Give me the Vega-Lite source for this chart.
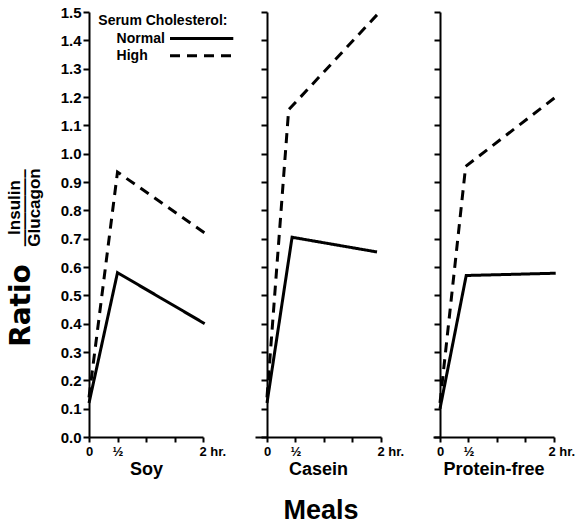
{
  "$schema": "https://vega.github.io/schema/vega-lite/v6.json",
  "background": "white",
  "padding": {"left": 5, "top": 5, "right": 2, "bottom": 2},
  "config": {
    "font": "Liberation Sans",
    "view": {"stroke": null},
    "axis": {"grid": false, "domainColor": "black", "domainWidth": 2, "tickColor": "black", "tickWidth": 2, "labelColor": "black", "titleColor": "black", "labelFontWeight": "bold", "titleFontWeight": "bold", "labelFlush": false, "labelOverlap": false},
    "legend": {"labelColor": "black", "titleColor": "black"},
    "title": {"color": "black"}
  },
  "title": {"text": "Meals", "orient": "bottom", "anchor": "middle", "frame": "group", "dx": 232, "fontSize": 27, "fontWeight": "bold", "offset": 20},
  "bounds": "flush",
  "spacing": 52,
  "datasets": {
    "d": [
      {"meal": "Soy", "chol": "Normal", "hr": 0, "ratio": 0.12},
      {"meal": "Soy", "chol": "Normal", "hr": 0.5, "ratio": 0.58},
      {"meal": "Soy", "chol": "Normal", "hr": 2.03, "ratio": 0.40},
      {"meal": "Soy", "chol": "High", "hr": 0, "ratio": 0.14},
      {"meal": "Soy", "chol": "High", "hr": 0.5, "ratio": 0.935},
      {"meal": "Soy", "chol": "High", "hr": 2.03, "ratio": 0.72},
      {"meal": "Casein", "chol": "Normal", "hr": 0, "ratio": 0.12},
      {"meal": "Casein", "chol": "Normal", "hr": 0.44, "ratio": 0.705},
      {"meal": "Casein", "chol": "Normal", "hr": 1.93, "ratio": 0.653},
      {"meal": "Casein", "chol": "High", "hr": 0, "ratio": 0.14},
      {"meal": "Casein", "chol": "High", "hr": 0.38, "ratio": 1.155},
      {"meal": "Casein", "chol": "High", "hr": 1.93, "ratio": 1.49},
      {"meal": "Protein-free", "chol": "Normal", "hr": 0, "ratio": 0.10},
      {"meal": "Protein-free", "chol": "Normal", "hr": 0.46, "ratio": 0.57},
      {"meal": "Protein-free", "chol": "Normal", "hr": 2.03, "ratio": 0.578},
      {"meal": "Protein-free", "chol": "High", "hr": 0, "ratio": 0.12},
      {"meal": "Protein-free", "chol": "High", "hr": 0.45, "ratio": 0.955},
      {"meal": "Protein-free", "chol": "High", "hr": 2.03, "ratio": 1.20}
    ]
  },
  "resolve": {"scale": {"x": "independent", "strokeDash": "independent"}, "legend": {"strokeDash": "independent"}},
  "hconcat": [
    {
      "width": 114, "height": 425,
      "title": {"text": "Ratio", "orient": "left", "anchor": "middle", "frame": "group", "font": "DejaVu Sans", "fontSize": 28, "fontWeight": "bold", "baseline": "alphabetic", "dx": -81, "offset": -52},
      "data": {"name": "d"},
      "transform": [{"filter": "datum.meal === 'Soy'"}],
      "mark": {"type": "line", "strokeWidth": 3, "color": "black"},
      "encoding": {
        "x": {"field": "hr", "type": "quantitative", "scale": {"domain": [0, 2], "nice": false, "zero": false},
          "axis": {"values": [0, 0.5, 1, 1.5, 2], "labelExpr": "datum.value == 0 ? '0' : datum.value == 0.5 ? '½' : datum.value == 2 ? '2 hr.' : ''",
            "labelAlign": {"condition": {"test": "datum.value == 2", "value": "left"}, "value": "center"},
            "labelOffset": {"condition": {"test": "datum.value == 2", "value": -4}, "value": 0},
            "tickSize": 5, "labelPadding": 3, "labelFontSize": 13, "titleFontSize": 18, "titlePadding": 2, "title": "Soy"}},
        "y": {"field": "ratio", "type": "quantitative", "scale": {"domain": [0, 1.5], "nice": false},
          "axis": {"values": [0, 0.1, 0.2, 0.3, 0.4, 0.5, 0.6, 0.7, 0.8, 0.9, 1.0, 1.1, 1.2, 1.3, 1.4, 1.5], "format": ".1f", "tickSize": 6, "labelPadding": 2, "labelFontSize": 15,
            "title": ["Insulin", "————–", "Glucagon"], "titleFontSize": 17, "titleLineHeight": 10, "titleX": -69.3, "titleY": 195, "titleBaseline": "alphabetic", "titleAlign": "center"}},
        "strokeDash": {"field": "chol", "type": "nominal", "scale": {"domain": ["Normal", "High"], "range": [[1, 0], [10, 7]]},
          "legend": {"orient": "none", "legendX": 9.3, "legendY": 1.5, "padding": 0, "title": "Serum Cholesterol:", "titleFontSize": 14, "titleFontWeight": "bold", "titlePadding": 4, "titleAnchor": "start",
            "labelFontSize": 14, "labelFontWeight": "bold", "labelOffset": 4.3, "symbolType": "M12.94,0H25.6", "symbolSize": 100, "symbolStrokeWidth": 3, "symbolStrokeColor": "black", "rowPadding": 3.3}}
      }
    },
    {
      "width": 126, "height": 425,
      "data": {"name": "d"},
      "transform": [{"filter": "datum.meal === 'Casein'"}],
      "mark": {"type": "line", "strokeWidth": 3, "color": "black"},
      "encoding": {
        "x": {"field": "hr", "type": "quantitative", "scale": {"domain": [-0.2105, 2], "nice": false, "zero": false},
          "axis": {"values": [0, 0.5, 1, 1.5, 2], "labelExpr": "datum.value == 0 ? '0' : datum.value == 0.5 ? '½' : datum.value == 2 ? '2 hr.' : ''",
            "labelAlign": {"condition": {"test": "datum.value == 2", "value": "left"}, "value": "center"},
            "labelOffset": {"condition": {"test": "datum.value == 2", "value": -4}, "value": 0},
            "tickSize": 5, "labelPadding": 3, "labelFontSize": 13, "titleFontSize": 18, "titlePadding": 2, "title": "Casein"}},
        "y": {"field": "ratio", "type": "quantitative", "scale": {"domain": [0, 1.5], "nice": false},
          "axis": {"values": [0, 0.1, 0.2, 0.3, 0.4, 0.5, 0.6, 0.7, 0.8, 0.9, 1.0, 1.1, 1.2, 1.3, 1.4, 1.5], "labels": false, "tickSize": 6, "title": null, "offset": -12}},
        "strokeDash": {"field": "chol", "type": "nominal", "scale": {"domain": ["Normal", "High"], "range": [[1, 0], [10, 7]]}, "legend": null}
      }
    },
    {
      "width": 121, "height": 425,
      "data": {"name": "d"},
      "transform": [{"filter": "datum.meal === 'Protein-free'"}],
      "mark": {"type": "line", "strokeWidth": 3, "color": "black"},
      "encoding": {
        "x": {"field": "hr", "type": "quantitative", "scale": {"domain": [-0.1228, 2], "nice": false, "zero": false},
          "axis": {"values": [0, 0.5, 1, 1.5, 2], "labelExpr": "datum.value == 0 ? '0' : datum.value == 0.5 ? '½' : datum.value == 2 ? '2 hr.' : ''",
            "labelAlign": {"condition": {"test": "datum.value == 2", "value": "left"}, "value": "center"},
            "labelOffset": {"condition": {"test": "datum.value == 2", "value": -6}, "value": 0},
            "tickSize": 5, "labelPadding": 3, "labelFontSize": 13, "titleFontSize": 18, "titlePadding": 2, "title": "Protein-free"}},
        "y": {"field": "ratio", "type": "quantitative", "scale": {"domain": [0, 1.5], "nice": false},
          "axis": {"values": [0, 0.1, 0.2, 0.3, 0.4, 0.5, 0.6, 0.7, 0.8, 0.9, 1.0, 1.1, 1.2, 1.3, 1.4, 1.5], "labels": false, "tickSize": 6, "title": null, "offset": -7}},
        "strokeDash": {"field": "chol", "type": "nominal", "scale": {"domain": ["Normal", "High"], "range": [[1, 0], [10, 7]]}, "legend": null}
      }
    }
  ]
}
